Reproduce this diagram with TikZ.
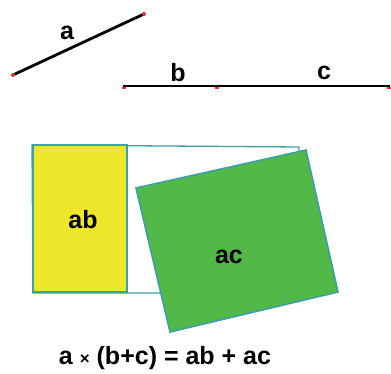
\documentclass[tikz,border=0pt]{standalone}
\usepackage{fontspec}
\setmainfont{Liberation Sans}
\definecolor{teal1}{HTML}{3E9EA6}
\definecolor{yel}{HTML}{EDE62A}
\definecolor{grn}{HTML}{52B848}
\definecolor{redd}{HTML}{E53030}
\begin{document}
\begin{tikzpicture}[x=1pt,y=-1pt,
  seg/.style={line width=2.8pt,black},
  tick/.style={fill=redd,draw=none},
  lbl/.style={font=\bfseries\fontsize{25}{27}\selectfont,inner sep=0pt},
  box/.style={draw=teal1,line width=1.6pt}]
\useasboundingbox (0,0) rectangle (391,374);
% segment a
\coordinate (a1) at (13,75);
\coordinate (a2) at (144,14);
\draw[seg] (a1) -- (a2);
\fill[tick] (a1) circle (2);
\fill[tick] (a2) circle (2);
\node[lbl] (la) at (67,33) {a};
% segment b c
\coordinate (b1) at (123,86);
\coordinate (bm) at (217,86);
\coordinate (c2) at (390,86);
\draw[seg] (b1) -- (c2);
\fill[tick] (122,87) rectangle (126,89.5);
\fill[tick] (215,87) rectangle (219,89.5);
\fill[tick] (387,87) rectangle (391,89.5);
\node[lbl] (lb) at (178,73) {b};
\node[lbl] (lc) at (324,73) {c};
% outline rectangle
\draw[box,line width=1.3pt] (32,145) -- (299,147) -- (299,293) -- (33,293) -- cycle;
% yellow
\draw[box,fill=yel] (33,145) rectangle (127,292);
\node[lbl] (lab) at (83,220) {ab};
% green
\draw[box,fill=grn] (136,188) -- (306,150) -- (338,292) -- (170,332) -- cycle;
\node[lbl] (lac) at (229,257) {ac};
% equation
\node[font=\bfseries\fontsize{25}{27}\selectfont,inner sep=0pt] (eq) at (165,358) {a {\fontsize{17}{19}\selectfont×} (b+c) = ab + ac};
\end{tikzpicture}
\end{document}
